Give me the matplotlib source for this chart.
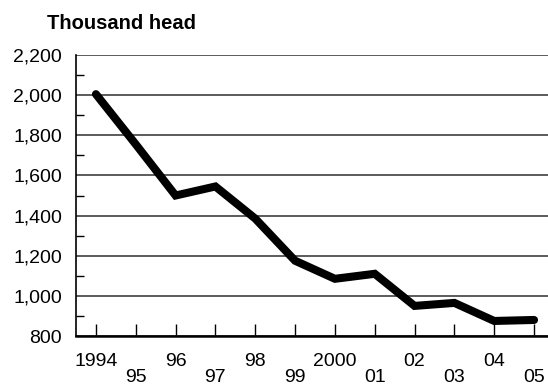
import numpy as np
import matplotlib.pyplot as plt

plt.rcParams['font.family'] = ['Liberation Sans', 'DejaVu Sans']

years = ['1994', '95', '96', '97', '98', '99', '2000', '01', '02', '03', '04', '05']
head = [2005, 1755, 1500, 1545, 1385, 1175, 1085, 1110, 950, 965, 875, 880]

fig = plt.figure(figsize=(5.48, 3.86), dpi=100)
ax = fig.add_axes([0.1387, 0.1295, 0.8613, 0.728])

x = np.arange(len(years))
ax.plot(x, head, color='black', lw=5.8, solid_capstyle='round', solid_joinstyle='miter', zorder=3)

ax.set_xlim(-0.5, 11.35)
ax.set_ylim(800, 2200)
ax.set_yticks(np.arange(800, 2201, 200))
ax.set_yticklabels([f'{v:,}' for v in range(800, 2201, 200)], fontsize=14)
ax.set_yticks(np.arange(900, 2200, 200), minor=True)
ax.grid(axis='y', color='#404040', lw=1.2)
ax.set_axisbelow(True)

ax.set_xticks(x)
ax.set_xticklabels([y if i % 2 == 0 else '\n' + y for i, y in enumerate(years)], fontsize=14)
for lab in ax.get_xticklabels():
    lab.set_linespacing(0.95)
ax.tick_params(axis='x', direction='in', length=9, width=1, pad=12)
ax.tick_params(axis='y', which='major', length=0, pad=10)
ax.tick_params(axis='y', which='minor', direction='in', length=6, width=1)

for s in ['top', 'right']:
    ax.spines[s].set_visible(False)
ax.spines['left'].set_linewidth(1.2)
ax.spines['bottom'].set_linewidth(1.8)

fig.text(0.086, 0.939, 'Thousand head', fontsize=14.5, fontweight='bold', va='center')

fig.savefig('out.png', dpi=100)
